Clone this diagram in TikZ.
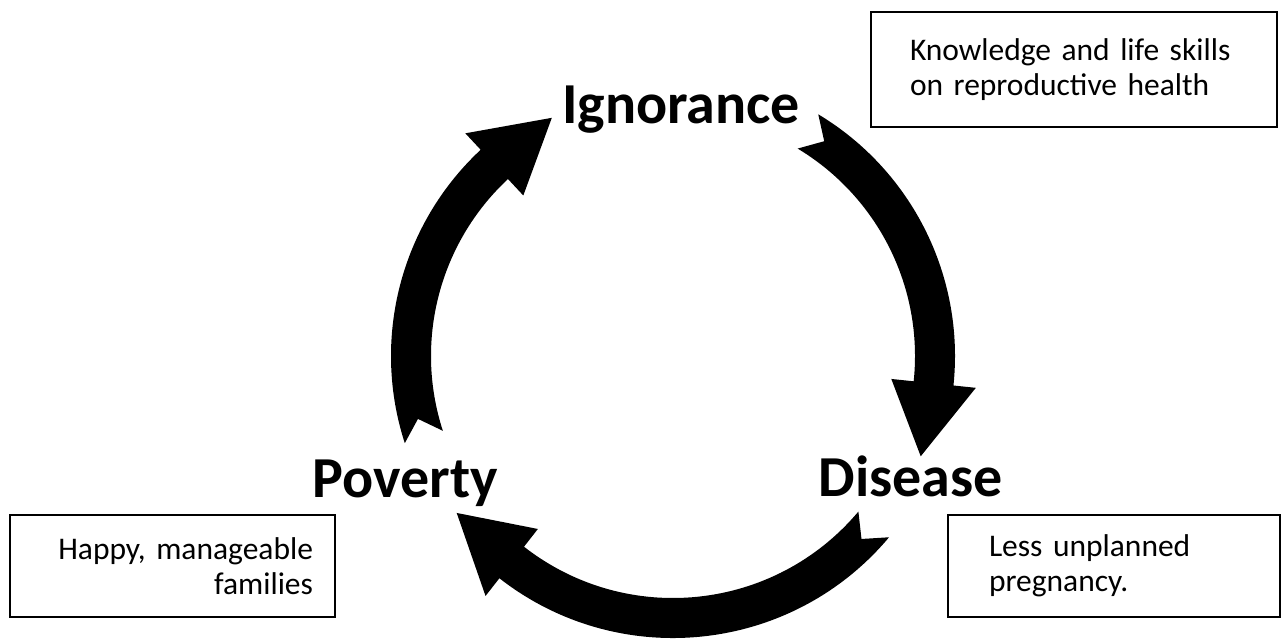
\documentclass[tikz,border=0pt]{standalone}
\usepackage{fontspec}
\setmainfont{Carlito}
\usetikzlibrary{calc}

% geometry of the cycle (in px-like units)
\def\cycRmid{262}    % centre line radius
\def\cycRout{282}    % outer edge
\def\cycRin{242}     % inner edge
\def\cycHout{304.5}  % arrow head outer corner
\def\cycHin{219.5}   % arrow head inner corner
\def\cycHlen{74}     % arrow head length
\def\cycHtilt{4}     % extra inward tilt of the head
\def\cycNotch{19}    % tail notch depth

% one curved block arrow from angle #2 to angle #3 around the cycle centre
\newcommand\cyclearrow[3]{%
  \fill[blockarrow] (#2:\cycRout) arc[start angle=#2, end angle=#3, radius=\cycRout]
    -- (#3:\cycHout) coordinate (#1-hout)
    -- ($(#3:\cycRmid)+(#3+90+\cycHtilt:\cycHlen)$) coordinate (#1-tip)
    -- (#3:\cycHin) coordinate (#1-hin)
    -- (#3:\cycRin) arc[start angle=#3, end angle=#2, radius=\cycRin]
    -- ($(#2:\cycRmid)+(#2+90:\cycNotch)$) coordinate (#1-notch)
    -- cycle;}

\tikzset{
  blockarrow/.style={fill=black},
  cyclelabel/.style={font=\bfseries\fontsize{58}{68}\selectfont, inner sep=0pt},
  notebox/.style={draw=black, line width=1.8pt, inner xsep=0pt, inner ysep=0pt,
    font=\fontsize{31.5}{35}\selectfont},
}

\begin{document}
\begin{tikzpicture}[x=1pt, y=-1pt]
  \useasboundingbox (0,0) rectangle (1282,641);

  % cycle arrows
  \begin{scope}[shift={(673,356)}]
    \cyclearrow{toign}{162}{227}
    \cyclearrow{todis}{301}{366}
    \cyclearrow{topov}{40}{128}
  \end{scope}

  % stage labels
  \node[cyclelabel, anchor=base west] (ign) at (562,123) {Ignorance};
  \node[cyclelabel, anchor=base east] (pov) at (498,497) {Poverty};
  \node[cyclelabel, anchor=base east] (dis) at (1003,496) {Disease};

  % outcome notes
  \node[notebox, minimum width=406pt, minimum height=115pt, text width=328pt, align=left]
    (kbox) at (1074,69.5) {Knowledge and life skills\\on reproductive health};
  \node[notebox, minimum width=325pt, minimum height=102pt, text width=281pt, align=right]
    (hbox) at (172.5,566) {Happy, manageable\\families};
  \node[notebox, minimum width=332pt, minimum height=102pt, text width=250pt, align=left]
    (lbox) at (1114,566) {Less unplanned\\pregnancy.};
\end{tikzpicture}
\end{document}
